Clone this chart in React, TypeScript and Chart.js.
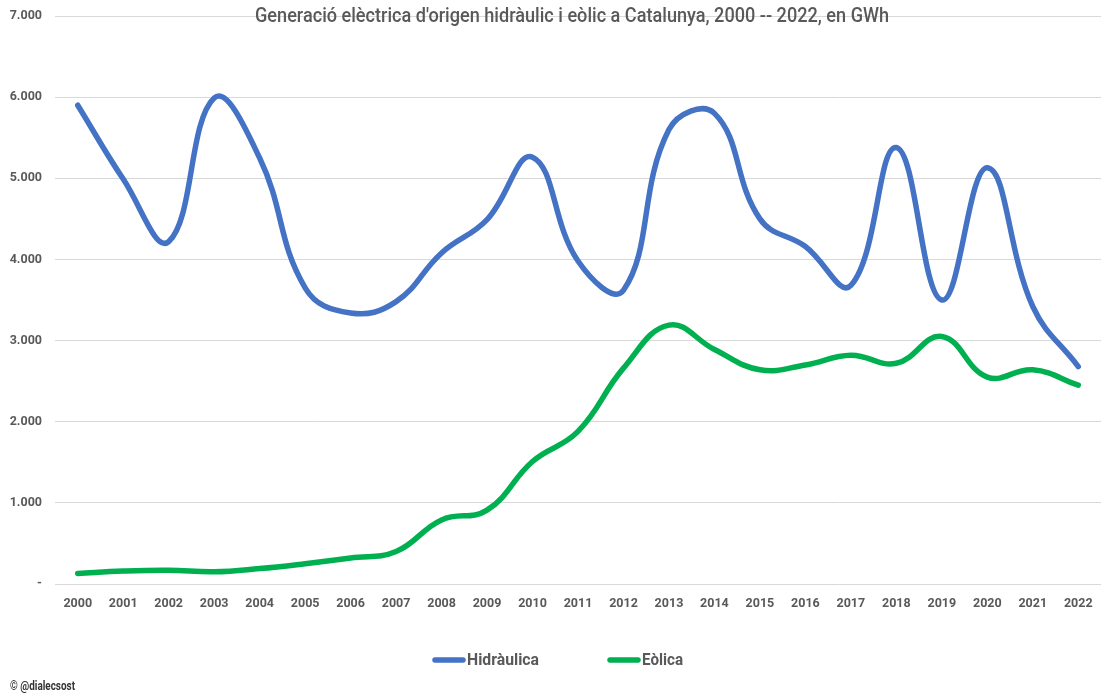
import React, { useEffect, useRef } from "react";
import { Chart, registerables } from "chart.js";

Chart.register(...registerables);

const years = ["2000","2001","2002","2003","2004","2005","2006","2007","2008","2009","2010","2011","2012","2013","2014","2015","2016","2017","2018","2019","2020","2021","2022"];
const hidraulica = [5900, 4990, 4220, 5990, 5250, 3650, 3340, 3480, 4080, 4490, 5260, 3980, 3620, 5600, 5800, 4500, 4160, 3680, 5380, 3500, 5130, 3420, 2680];
const eolica = [130, 160, 170, 150, 190, 250, 320, 400, 790, 910, 1510, 1880, 2660, 3190, 2890, 2640, 2700, 2820, 2720, 3050, 2550, 2640, 2450];
const seriesNames = ["Hidràulica", "Eòlica"];
const titleText = "Generació elèctrica d'origen hidràulic i eòlic a Catalunya, 2000 -- 2022, en GWh";
const creditText = "© @dialecsost";

const GRAY = "#595959";
const FONT = "Roboto, 'DejaVu Sans Condensed', 'Liberation Sans', sans-serif";

function fmt(v: number): string {
  if (v === 0) return "-";
  return String(v).replace(/\B(?=(\d{3})+(?!\d))/g, ".");
}

// draws text starting at x (left) squeezed horizontally to the given width
function fitText(ctx: any, text: string, x: number, y: number, width: number) {
  const w = ctx.measureText(text).width;
  const s = Math.min(1, width / w);
  ctx.save();
  ctx.translate(x, y);
  ctx.scale(s, 1);
  ctx.textAlign = "left";
  ctx.fillText(text, 0, 0);
  ctx.restore();
}

const overlayPlugin = {
  id: "overlay",
  afterDraw(chart: any) {
    const ctx = chart.ctx;
    ctx.save();
    ctx.textBaseline = "middle";
    // title
    ctx.fillStyle = GRAY;
    ctx.font = `500 20px ${FONT}`;
    fitText(ctx, titleText, 255, 17, 634);
    // legend
    ctx.font = `bold 17px ${FONT}`;
    const items = chart.data.datasets.map((d: any) => ({ label: d.label, color: d.borderColor }));
    const lineStarts = [435, 610];
    const textWidths = [72, 41];
    const y = 660;
    items.forEach((it: any, i: number) => {
      const x0 = lineStarts[i];
      ctx.strokeStyle = it.color;
      ctx.lineWidth = 5.5;
      ctx.lineCap = "round";
      ctx.beginPath();
      ctx.moveTo(x0, y);
      ctx.lineTo(x0 + 28, y);
      ctx.stroke();
      ctx.fillStyle = GRAY;
      fitText(ctx, it.label, x0 + 32, y + 1, textWidths[i]);
    });
    // credit
    ctx.fillStyle = "#333333";
    ctx.font = `bold 12px ${FONT}`;
    fitText(ctx, creditText, 10, 687, 65);
    ctx.restore();
  },
};

export default function App() {
  const ref = useRef<HTMLCanvasElement | null>(null);
  useEffect(() => {
    document.body.style.margin = "0";
    const tickFont = { family: FONT, size: 12.5, weight: "bold" as const };
    const chart = new Chart(ref.current as HTMLCanvasElement, {
      type: "line",
      data: {
        labels: years,
        datasets: [
          {
            label: seriesNames[0],
            data: hidraulica,
            borderColor: "#4472C4",
            backgroundColor: "#4472C4",
            borderWidth: 5.5,
            borderCapStyle: "round",
            borderJoinStyle: "round",
            pointRadius: 0,
            tension: 0.42,
            fill: false,
          },
          {
            label: seriesNames[1],
            data: eolica,
            borderColor: "#00B050",
            backgroundColor: "#00B050",
            borderWidth: 5.5,
            borderCapStyle: "round",
            borderJoinStyle: "round",
            pointRadius: 0,
            tension: 0.42,
            fill: false,
          },
        ],
      },
      options: {
        animation: false,
        responsive: false,
        maintainAspectRatio: false,
        layout: { padding: { top: 16, left: 0, right: -4, bottom: 71 } },
        plugins: {
          legend: { display: false },
          title: { display: false },
          tooltip: { enabled: false },
        },
        scales: {
          x: {
            offset: true,
            grid: { display: false, drawTicks: false },
            border: { display: false },
            ticks: {
              color: GRAY,
              padding: 12,
              maxRotation: 0,
              font: tickFont,
            },
            afterFit(scale: any) {
              scale.height = 40;
              scale.paddingLeft = 0;
              scale.paddingRight = 0;
            },
          },
          y: {
            min: 0,
            max: 7000,
            grid: { color: "#d9d9d9", lineWidth: 1, drawTicks: false },
            border: { display: false },
            ticks: {
              stepSize: 1000,
              color: GRAY,
              padding: 13,
              font: tickFont,
              callback: (v: any) => fmt(Number(v)),
            },
            afterFit(scale: any) {
              scale.width = 55;
              scale.paddingTop = 0;
              scale.paddingBottom = 0;
            },
          },
        },
      },
      plugins: [overlayPlugin],
    });
    return () => chart.destroy();
  }, []);
  return (
    <div style={{ position: "relative", width: 1101, height: 695, overflow: "hidden" }}>
      <canvas ref={ref} width={1101} height={695} style={{ display: "block" }} />
    </div>
  );
}
